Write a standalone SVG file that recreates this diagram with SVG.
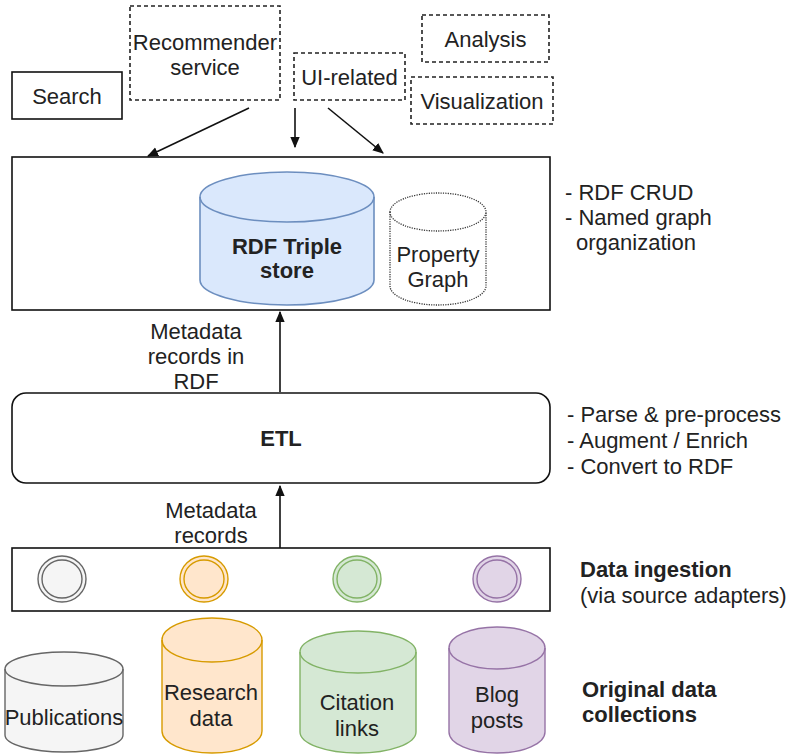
<svg xmlns="http://www.w3.org/2000/svg" width="792" height="756" viewBox="0 0 792 756">
  <style>
    text { font-family: "Liberation Sans", Arial, sans-serif; font-size: 22px; fill: #222; }
    .c { text-anchor: middle; }
    .b { font-weight: bold; }
    .box { fill: #fff; stroke: #111; stroke-width: 1.6; }
    .dash { fill: #fff; stroke: #222; stroke-width: 1.6; stroke-dasharray: 4 3; }
    .edge { fill: none; stroke: #111; stroke-width: 1.6; marker-end: url(#arrow); }
  </style>
  <defs>
    <marker id="arrow" viewBox="0 0 10 10" refX="9" refY="5" markerWidth="7" markerHeight="7" orient="auto">
      <path d="M0,0.8 L10,5 L0,9.2 Z" fill="#111"/>
    </marker>
  </defs>

  <rect width="792" height="756" fill="#fff"/>

  <!-- clients on top -->
  <g id="search">
    <rect class="box" x="12" y="72" width="110" height="47"/>
    <text class="c" x="67" y="104">Search</text>
  </g>
  <g id="recommender">
    <rect class="dash" x="130" y="6" width="150" height="94"/>
    <text class="c" x="205" y="50">Recommender</text>
    <text class="c" x="205" y="75">service</text>
  </g>
  <g id="ui-related">
    <rect class="dash" x="294" y="53" width="111" height="47"/>
    <text class="c" x="349.5" y="85">UI-related</text>
  </g>
  <g id="analysis">
    <rect class="dash" x="422" y="15" width="127" height="47"/>
    <text class="c" x="485.5" y="47">Analysis</text>
  </g>
  <g id="visualization">
    <rect class="dash" x="411" y="77" width="142" height="47"/>
    <text class="c" x="482" y="109">Visualization</text>
  </g>

  <!-- storage layer -->
  <g id="storage">
    <rect class="box" x="12" y="157" width="538" height="153"/>
  </g>
  <g id="rdf-store">
    <path d="M200,197 a87,25 0 0 1 174,0 v83 a87,25 0 0 1 -174,0 Z" fill="#dae8fc" stroke="#6c8ebf" stroke-width="1.6"/>
    <path d="M200,197 a87,25 0 0 0 174,0" fill="none" stroke="#6c8ebf" stroke-width="1.6"/>
    <text class="c b" x="287" y="254">RDF Triple</text>
    <text class="c b" x="287" y="278">store</text>
  </g>
  <g id="property-graph">
    <path d="M390,212 a48,19 0 0 1 96,0 v74 a48,19 0 0 1 -96,0 Z" fill="#fff" stroke="#333" stroke-width="1.3" stroke-dasharray="1.2 1.2"/>
    <path d="M390,212 a48,19 0 0 0 96,0" fill="none" stroke="#333" stroke-width="1.3" stroke-dasharray="1.2 1.2"/>
    <text class="c" x="438" y="262">Property</text>
    <text class="c" x="438" y="287">Graph</text>
  </g>
  <g id="storage-notes">
    <text x="565" y="200">- RDF CRUD</text>
    <text x="565" y="225">- Named graph</text>
    <text x="576" y="250">organization</text>
  </g>

  <!-- ETL -->
  <g id="etl">
    <rect class="box" x="12" y="393" width="538" height="90" rx="14"/>
    <text class="c b" x="281" y="446">ETL</text>
  </g>
  <g id="etl-notes">
    <text x="567" y="422">- Parse &amp; pre-process</text>
    <text x="567" y="448">- Augment / Enrich</text>
    <text x="567" y="474">- Convert to RDF</text>
  </g>

  <!-- ingestion adapters -->
  <g id="ingestion">
    <rect class="box" x="12" y="548" width="538" height="63"/>
    <ellipse cx="62" cy="579" rx="24" ry="23" fill="#f5f5f5" stroke="#666" stroke-width="1.4"/>
    <ellipse cx="62" cy="579" rx="20" ry="19" fill="none" stroke="#666" stroke-width="1.4"/>
    <ellipse cx="204" cy="579" rx="24" ry="23" fill="#ffe6cc" stroke="#d79b00" stroke-width="1.4"/>
    <ellipse cx="204" cy="579" rx="20" ry="19" fill="none" stroke="#d79b00" stroke-width="1.4"/>
    <ellipse cx="357" cy="579" rx="24" ry="23" fill="#d5e8d4" stroke="#82b366" stroke-width="1.4"/>
    <ellipse cx="357" cy="579" rx="20" ry="19" fill="none" stroke="#82b366" stroke-width="1.4"/>
    <ellipse cx="497" cy="579" rx="24" ry="23" fill="#e1d5e7" stroke="#9673a6" stroke-width="1.4"/>
    <ellipse cx="497" cy="579" rx="20" ry="19" fill="none" stroke="#9673a6" stroke-width="1.4"/>
  </g>
  <g id="ingestion-label">
    <text class="b" x="580" y="577">Data ingestion</text>
    <text x="580" y="603">(via source adapters)</text>
  </g>

  <!-- source collections -->
  <g id="publications">
    <path d="M5,669 a59,17 0 0 1 118,0 v66 a59,17 0 0 1 -118,0 Z" fill="#f5f5f5" stroke="#666" stroke-width="1.4"/>
    <path d="M5,669 a59,17 0 0 0 118,0" fill="none" stroke="#666" stroke-width="1.4"/>
    <text class="c" x="64" y="725">Publications</text>
  </g>
  <g id="research-data">
    <path d="M162,640 a50,22 0 0 1 100,0 v91 a50,22 0 0 1 -100,0 Z" fill="#ffe6cc" stroke="#d79b00" stroke-width="1.4"/>
    <path d="M162,640 a50,22 0 0 0 100,0" fill="none" stroke="#d79b00" stroke-width="1.4"/>
    <text class="c" x="211" y="700">Research</text>
    <text class="c" x="211" y="726">data</text>
  </g>
  <g id="citation-links">
    <path d="M300,652 a58,21 0 0 1 116,0 v80 a58,21 0 0 1 -116,0 Z" fill="#d5e8d4" stroke="#82b366" stroke-width="1.4"/>
    <path d="M300,652 a58,21 0 0 0 116,0" fill="none" stroke="#82b366" stroke-width="1.4"/>
    <text class="c" x="357" y="710">Citation</text>
    <text class="c" x="357" y="736">links</text>
  </g>
  <g id="blog-posts">
    <path d="M449,648 a48,21 0 0 1 96,0 v84 a48,21 0 0 1 -96,0 Z" fill="#e1d5e7" stroke="#9673a6" stroke-width="1.4"/>
    <path d="M449,648 a48,21 0 0 0 96,0" fill="none" stroke="#9673a6" stroke-width="1.4"/>
    <text class="c" x="497" y="702">Blog</text>
    <text class="c" x="497" y="728">posts</text>
  </g>
  <g id="collections-label">
    <text class="b" x="582" y="697">Original data</text>
    <text class="b" x="582" y="722">collections</text>
  </g>

  <!-- connectors -->
  <g id="connectors">
    <line class="edge" x1="249" y1="108" x2="148" y2="156"/>
    <line class="edge" x1="295" y1="108" x2="295" y2="147"/>
    <line class="edge" x1="328" y1="108" x2="383" y2="153"/>
    <line class="edge" x1="280" y1="392" x2="280" y2="312"/>
    <line class="edge" x1="280" y1="548" x2="280" y2="486"/>
    <text class="c" x="196" y="339">Metadata</text>
    <text class="c" x="196" y="364">records in</text>
    <text class="c" x="196" y="389">RDF</text>
    <text class="c" x="211" y="518">Metadata</text>
    <text class="c" x="211" y="543">records</text>
  </g>
</svg>
